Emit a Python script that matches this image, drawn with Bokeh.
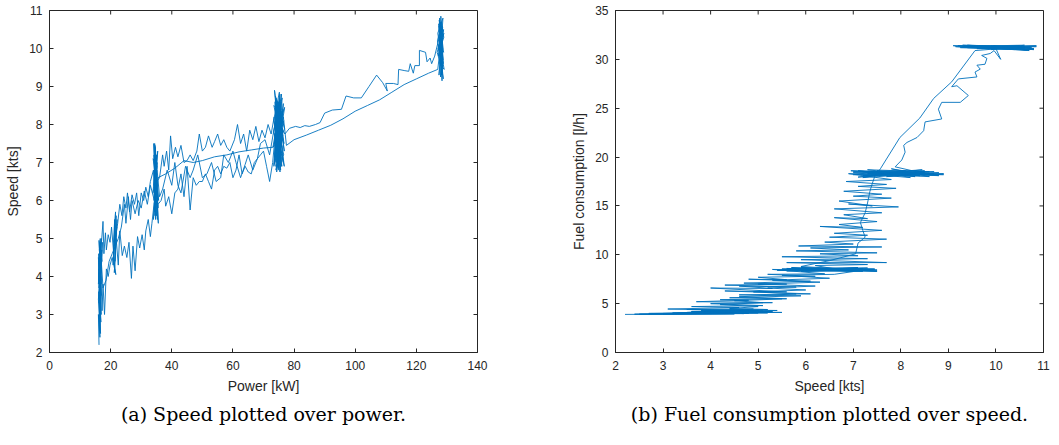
import math
from bokeh.plotting import figure
from bokeh.models import FixedTicker, Title, Range1d
from bokeh.layouts import row
from bokeh.embed import file_html
from bokeh.resources import INLINE

BLUE = "#0072BD"
AX = "#262626"

# ---------------- Chart (a): speed [kts] over power [kW] ----------------
a_cluster16 = [(16.2,2.2),(16.0,3.0),(16.5,2.4),(16.1,3.6),(16.8,2.8),(16.3,4.1),(16.6,3.2),(16.0,4.5),
               (16.9,3.5),(16.4,4.8),(16.2,3.7),(17.0,4.3),(16.5,4.9),(16.1,3.9),(16.7,4.6),(16.3,4.0),
               (17.1,4.7),(16.6,4.2),(16.2,4.95),(16.9,3.8),(16.4,4.5),(17.2,4.4),(16.5,4.8),(16.8,4.1),
               (16.3,4.7),(17.0,5.0),(16.6,4.3)]
a_cluster16_b = [(16.0,3.4),(16.7,2.5),(16.2,4.2),(16.9,3.0),(16.1,4.6),(16.5,3.5),(17.3,4.9),(16.3,2.9),
                 (16.8,4.5),(16.0,3.8),(16.6,5.0),(16.4,3.3),(17.0,4.6),(16.2,4.0)]
a_up_17_21 = [(17.5,5.45),(17.8,4.6),(18.3,5.15),(18.6,4.7),(19.2,5.1),(19.8,4.9),(20.3,5.3)]
a_cluster21 = [(21.0,4.6),(21.3,5.5),(20.8,4.3),(21.6,5.7),(21.1,4.9),(22.0,5.3),(21.4,4.4),(21.8,5.6),
               (21.2,4.8),(22.3,5.4)]
a_upper_22_33 = [(23.0,5.9),(23.7,5.6),(24.3,6.1),(25.0,5.8),(25.5,6.2),(26.2,5.7),(27.0,6.15),(27.8,5.9),
                 (28.5,6.2),(29.2,5.6),(30.0,6.2),(30.8,6.0),(31.5,6.35),(32.3,6.1),(33.0,6.5)]
a_cluster34 = [(34.0,6.8),(34.5,5.6),(34.2,7.2),(34.8,5.9),(34.1,7.5),(35.0,6.1),(34.4,6.9),(35.3,5.5),
               (34.6,7.4),(34.9,6.3),(34.3,7.0),(35.5,5.8),(34.7,7.3),(34.2,6.0),(35.1,6.6),(34.5,7.45),
               (35.6,5.4),(34.8,6.5)]
a_cluster34_c = [(33.8,6.2),(35.4,7.3),(34.0,5.5),(35.2,6.9),(33.9,7.1),(35.7,6.0),(34.4,7.5),(34.7,5.5),
                 (35.0,7.2),(34.1,6.4)]
a_upper_35_73 = [(36.0,6.6),(37.0,7.2),(37.5,6.9),(38.3,7.3),(39.0,6.8),(39.6,7.7),(40.3,7.1),(41.2,7.4),
                 (42.0,7.15),(43.0,7.45),(44.0,7.0),(45.0,7.05),(46.0,7.2),(47.0,7.05),(48.2,7.3),(49.0,7.75),
                 (50.0,7.3),(51.0,7.4),(52.0,7.7),(53.2,7.4),(54.0,7.55),(55.0,7.75),(56.0,7.45),(57.0,7.6),
                 (58.0,7.4),(59.0,7.3),(60.5,7.6),(61.5,8.0),(62.5,7.5),(63.5,7.75),(64.5,7.3),(65.5,7.85),
                 (66.5,7.6),(67.5,7.95),(68.5,7.55),(69.5,7.85),(70.5,7.65),(71.5,8.0),(72.5,7.75)]
a_cluster75 = [(73.5,8.2),(74.2,7.0),(73.8,8.6),(75.0,6.8),(74.0,8.3),(75.5,7.2),(73.6,8.9),(76.0,7.4),
               (74.5,8.5),(73.4,6.9),(75.2,8.7),(74.8,7.1),(76.4,8.4),(73.9,7.3),(75.8,8.6),(74.3,6.75),
               (76.6,8.1),(73.7,7.6),(75.4,8.8),(74.6,6.9),(76.2,7.9),(73.5,7.5),(75.0,8.5),(76.8,7.3),
               (74.1,8.7),(75.6,6.8),(74.9,8.2),(76.5,7.0),(73.8,8.0),(75.3,7.6),(76.9,8.45),(74.4,7.8),
               (75.7,7.05),(74.7,8.35),(76.3,7.7),(73.6,7.15),(75.1,8.55),(76.7,7.5),(74.2,8.1),(75.9,7.25)]
a_cluster75_d = [(73.2,7.8),(76.1,8.7),(74.8,6.85),(75.6,8.3),(73.4,8.5),(76.6,7.2),(74.0,6.9),(75.9,8.8),
                 (73.1,7.4),(76.3,8.0),(74.7,7.65),(75.4,6.75),(73.9,8.75),(76.9,7.9),(74.3,7.35),(75.7,8.1),
                 (73.5,6.95),(76.5,8.55),(74.9,7.0),(75.2,8.85),(73.3,8.1),(76.8,6.9),(74.4,8.45),(75.5,7.45),
                 (74.1,6.8),(76.0,8.35),(73.6,7.7),(75.3,8.0)]
a_upper_77_127 = [(77.0,7.75),(78.5,7.9),(80.5,7.95),(82.0,7.92),(83.5,7.97),(85.0,7.95),(87.0,8.0),(88.5,8.05),
                  (90.0,8.3),(92.5,8.38),(95.5,8.4),(97.0,8.75),(99.5,8.7),(102.0,8.7),(104.5,9.0),(107.0,9.3),
                  (109.0,9.1),(110.5,8.88),(110.0,9.08),(112.5,9.08),(114.0,9.05),(114.2,9.45),(116.0,9.42),
                  (117.5,9.4),(118.0,9.6),(119.0,9.35),(119.5,9.55),(121.0,9.55),(121.0,9.95),(123.0,9.9),
                  (123.5,9.65),(124.5,9.75),(125.0,9.6),(126.0,9.8)]
a_cluster128 = [(127.5,10.3),(128.2,9.3),(127.8,10.7),(128.6,9.5),(127.3,10.1),(128.9,9.9),(127.6,10.8),
                (128.4,9.15),(127.9,10.5),(128.7,9.7),(127.4,10.6),(128.3,9.4),(128.0,10.85),(128.8,9.6),
                (127.7,10.2),(129.0,10.4),(127.2,9.8),(128.5,10.6),(127.9,9.25),(128.6,10.0),(127.5,10.75),
                (128.1,9.55)]
a_cluster128_b = [(126.8,9.9),(128.9,10.5),(127.4,9.3),(128.7,10.8),(127.0,10.4),(129.1,9.45),(127.6,9.6),
                  (128.3,10.7),(126.9,10.2),(128.8,9.2),(127.8,10.0),(129.0,10.3),(127.3,10.65),(128.5,9.35),
                  (127.9,10.4),(128.2,9.8),(127.1,10.0),(128.6,10.55)]
a_lower_127_77 = [(127.0,9.45),(124.0,9.35),(120.0,9.2),(116.0,9.05),(112.0,8.85),(108.0,8.65),(104.0,8.5),
                  (100.0,8.35),(96.0,8.15),(92.0,7.98),(88.0,7.85),(84.0,7.72),(80.0,7.6),(77.5,7.45)]
a_cluster75_b = [(76.5,8.2),(74.0,7.2),(75.5,8.4),(73.8,7.9),(76.0,6.9),(74.6,8.6),(75.2,7.35),(73.9,8.4),
                 (76.4,7.6),(74.5,7.5)]
a_smooth_73_35 = [(73.0,7.4),(70.0,7.38),(66.0,7.33),(62.0,7.28),(58.0,7.2),(54.0,7.15),(50.0,7.05),
                  (47.0,7.0),(44.0,7.05),(41.0,6.85),(38.0,6.7),(35.5,6.6)]
a_cluster34_b = [(34.5,5.7),(34.9,7.2),(34.3,5.9),(35.2,7.0),(34.6,6.2)]
a_lower_34_22 = [(33.5,5.4),(33.0,5.05),(32.3,5.5),(31.5,5.2),(31.0,4.7),(30.3,5.1),(29.5,4.75),(28.8,5.05),
                 (28.0,4.15),(27.3,4.8),(26.8,3.95),(26.0,4.9),(25.3,4.5),(24.5,4.8),(23.8,4.55),(23.0,5.2),
                 (22.5,4.3)]
a_cluster21_b = [(21.8,5.0),(21.2,4.1),(22.1,5.5),(21.0,4.5),(21.7,4.05)]
a_lower_21_16 = [(20.5,4.5),(19.8,4.3),(19.2,4.0),(18.6,4.2),(18.0,3.0),(17.5,3.8),(17.2,3.1),(16.8,4.0),
                 (16.4,2.6),(16.9,4.4),(16.2,3.3),(16.7,4.7)]
a_mid_17_34 = [(17.5,3.7),(18.5,3.9),(19.5,4.4),(20.5,4.6),(22.5,5.0),(23.5,5.3),(24.5,5.9),(25.0,5.4),
               (25.8,6.1),(26.5,5.5),(27.0,6.0),(28.0,5.65),(29.0,6.0),(30.0,5.8),(31.0,6.25),(32.0,5.9),
               (33.0,6.4),(34.3,6.0),(34.8,7.1),(35.0,5.6)]
a_lower_35_73 = [(35.5,5.9),(36.5,6.0),(37.5,6.3),(38.0,5.85),(39.0,6.1),(40.0,5.65),(41.0,6.2),(42.0,6.3),
                 (43.0,6.7),(44.0,6.1),(45.0,6.9),(46.0,5.75),(47.0,6.6),(48.0,6.4),(49.0,6.5),(50.0,6.5),
                 (51.0,6.7),(52.0,6.5),(53.0,6.3),(54.0,6.8),(55.0,6.9),(56.0,6.7),(57.0,6.9),(58.0,6.85),
                 (59.0,7.0),(60.0,6.6),(61.0,6.8),(62.0,7.2),(63.0,6.7),(64.0,6.9),(65.0,6.75),(66.0,6.7),
                 (67.0,7.0),(68.0,7.1),(69.0,7.2),(70.0,7.3),(71.0,6.9),(72.0,6.5),(73.0,7.0)]
a_cluster75_c = [(74.5,8.3),(75.8,6.9),(74.0,8.0),(76.2,7.8),(73.7,7.0),(75.0,8.6)]
a_mid_72_36 = [(72.0,7.2),(70.5,7.6),(69.0,7.5),(68.0,7.1),(66.5,6.8),(65.0,7.2),(64.0,6.95),(62.5,6.6),
               (61.0,7.0),(60.0,7.3),(58.5,7.0),(57.0,7.2),(56.0,6.6),(54.5,6.5),(53.0,7.0),(51.5,6.7),
               (50.0,6.6),(48.5,7.2),(47.0,6.8),(46.0,6.6),(44.5,6.9),(43.0,6.2),(42.0,6.4),(41.0,7.0),
               (40.0,6.4),(38.5,6.8),(37.0,6.3),(36.0,6.1),(35.2,6.8)]

a_segments = [a_cluster16, a_cluster16_b, a_up_17_21, a_cluster21, a_upper_22_33, a_cluster34, a_cluster34_c,
              a_upper_35_73, a_cluster75, a_cluster75_d, a_upper_77_127, a_cluster128, a_cluster128_b,
              a_lower_127_77, a_cluster75_b, a_smooth_73_35, a_cluster34_b, a_lower_34_22, a_cluster21_b,
              a_lower_21_16, a_mid_17_34, a_lower_35_73, a_cluster75_c, a_mid_72_36]

# ---------------- Chart (b): fuel consumption [l/h] over speed [kts] ----------------
b_cluster4 = [(2.2,3.9),(4.5,3.95),(2.5,3.92),(4.8,4.0),(3.0,3.95),(5.0,4.05),(2.7,4.0),(4.6,4.1),
              (3.4,4.0),(5.2,4.05),(3.8,4.1),(4.9,4.15),(3.2,4.05),(5.5,4.1),(4.0,4.2),(5.1,4.15),
              (3.6,4.2),(4.7,4.25),(4.2,4.1),(5.3,4.2),(3.9,4.3),(4.8,4.25),(4.4,4.35),(5.0,4.3),
              (4.1,4.2),(5.4,4.3),(3.5,4.4),(4.9,4.45)]
b_cluster4_c = [(3.5,4.1),(5.0,4.2),(3.8,4.0),(4.9,4.1),(2.4,3.92),(4.7,3.98),(3.6,4.2),(5.3,4.15),
                (3.9,4.05),(4.8,4.3),(3.3,4.0),(5.1,4.25),(4.0,4.15),(4.6,4.3)]
b_band_4_8 = [(3.1,4.45),(4.6,4.6),(3.6,4.7),(5.1,4.8),(4.0,5.0),(5.3,5.1),(3.7,5.2),(4.8,5.35),
              (4.2,5.4),(5.5,5.5),(4.4,5.6),(5.9,5.8),(4.6,5.9),(6.1,6.0),(4.3,6.3),(5.6,6.2),
              (4.0,6.6),(5.3,6.55),(4.6,6.8),(5.8,6.7),(4.3,6.9),(5.6,7.0),(4.7,7.1),(6.1,7.3),
              (4.8,7.5),(5.6,7.45),(5.0,7.7),(6.2,7.8),(5.2,8.0),(6.4,8.05)]
b_cluster8 = [(5.3,8.5),(7.0,8.4),(5.6,8.6),(7.4,8.5),(5.9,8.3),(7.2,8.6),(5.5,8.45),(7.5,8.3),
              (6.2,8.6),(7.3,8.4),(5.8,8.5),(7.1,8.7),(6.0,8.35),(7.45,8.5),(6.4,8.55),(7.0,8.3),
              (5.7,8.7),(6.9,8.45)]
b_cluster8_c = [(5.4,8.4),(7.45,8.55),(5.9,8.7),(7.2,8.3),(5.6,8.35),(7.5,8.45),(6.1,8.5),(7.3,8.65),
                (5.5,8.55),(6.8,8.4)]
b_band_9_17 = [(6.2,8.9),(7.3,9.0),(5.6,9.2),(7.7,9.2),(5.9,9.5),(7.3,9.6),(5.5,9.8),(7.1,9.9),
               (6.3,10.1),(7.5,10.2),(5.8,10.4),(6.9,10.5),(6.1,10.7),(7.6,10.8),(5.85,10.9),(7.0,11.1),
               (6.4,11.3),(7.7,11.6),(6.5,11.8),(7.3,12.0),(6.6,12.2),(7.6,12.5),(6.3,12.9),(7.2,12.8),
               (6.7,13.1),(7.5,13.4),(6.6,13.8),(7.3,13.7),(6.8,14.1),(7.6,14.3),(6.6,14.7),(7.95,14.9),
               (6.9,15.2),(7.4,15.0),(6.7,15.5),(7.8,15.8),(7.0,16.0),(7.6,16.2),(6.8,16.5),(7.9,16.8),
               (7.1,17.0),(7.7,17.2),(6.85,17.5),(7.8,17.7)]
b_cluster18 = [(6.9,18.3),(8.2,18.2),(7.0,18.5),(8.5,18.4),(7.2,18.1),(8.7,18.3),(7.1,18.6),(8.3,18.0),
               (7.4,18.4),(8.9,18.2),(7.0,18.2),(8.6,18.5),(7.3,18.7),(8.4,18.1),(7.6,18.3),(8.8,18.4),
               (7.2,17.9),(8.1,18.6),(7.5,18.2),(8.6,18.0),(7.8,18.8),(8.3,18.4)]
b_cluster18_b = [(6.95,18.6),(8.8,18.1),(7.3,18.3),(8.45,18.7),(7.1,17.95),(8.7,18.5),(7.5,18.6),(8.2,17.9),
                 (7.0,18.4),(8.9,18.3),(7.7,18.0),(8.5,18.6),(7.2,18.5),(8.6,18.2)]
b_rise_19_31 = [(7.88,19.0),(8.02,19.7),(8.09,20.5),(8.06,21.2),(8.13,21.5),(8.34,22.0),(8.48,22.7),
                (8.51,23.6),(8.86,23.9),(8.79,24.9),(8.86,25.6),(9.25,25.6),(9.42,26.3),(9.18,27.3),
                (9.07,27.2),(9.21,28.0),(9.60,28.2),(9.56,28.7),(9.67,29.0),(9.60,29.4),(9.77,29.5),
                (9.81,30.1),(9.70,30.4),(9.88,30.6),(9.96,30.9),(10.1,30.0),(10.0,31.1)]
b_cluster31 = [(9.1,31.4),(10.5,31.2),(9.3,31.3),(10.85,31.4),(9.6,31.1),(10.7,31.0),(9.4,31.45),
               (10.3,31.3),(9.8,31.2),(10.8,31.1),(9.5,31.35),(10.6,31.45),(9.9,31.0),(10.4,31.3),
               (9.2,31.4),(10.75,31.2),(9.7,31.3),(10.2,31.1),(9.95,31.4),(10.65,30.95)]
b_cluster31_b = [(9.15,31.3),(10.8,31.0),(9.4,31.2),(10.6,31.1),(9.3,31.45),(10.85,31.3),(9.7,31.1),
                 (10.5,31.4),(9.5,31.25),(10.7,30.9),(9.9,31.35),(10.4,31.0),(9.25,31.2),(10.6,31.3)]
b_descent_31_9 = [(9.56,30.9),(9.07,27.7),(8.69,26.0),(8.4,24.0),(7.98,22.0),(7.57,18.8),(7.45,18.0),
                  (7.4,17.3),(7.35,16.5),(7.3,15.3),(7.25,14.3),(7.15,13.3),(7.2,12.5),(7.25,11.8),
                  (7.1,11.2),(7.05,10.1),(6.5,9.4),(5.9,8.8)]
b_cluster8_b = [(7.5,8.35),(6.0,8.6),(7.3,8.5)]
b_band_8_4 = [(6.6,8.0),(5.5,7.9),(6.5,7.6),(5.3,7.4),(6.3,7.2),(5.0,7.0),(6.2,6.8),(5.2,6.6),
              (6.0,6.4),(4.9,6.2),(5.8,6.0),(4.6,5.7),(5.6,5.5),(4.5,5.3),(5.1,5.1),(4.2,4.9),
              (5.0,4.7),(4.4,4.5),(5.2,4.4),(3.8,4.3)]
b_cluster4_b = [(5.0,4.2),(4.4,4.0),(4.9,4.25),(3.0,4.0)]

b_segments = [b_cluster4, b_cluster4_c, b_band_4_8, b_cluster8, b_cluster8_c, b_band_9_17, b_cluster18,
              b_cluster18_b, b_rise_19_31, b_cluster31, b_cluster31_b, b_descent_31_9, b_cluster8_b,
              b_band_8_4, b_cluster4_b]

a_ticks_x = [0, 20, 40, 60, 80, 100, 120, 140]
a_ticks_y = [2, 3, 4, 5, 6, 7, 8, 9, 10, 11]
b_ticks_x = [2, 3, 4, 5, 6, 7, 8, 9, 10, 11]
b_ticks_y = [0, 5, 10, 15, 20, 25, 30, 35]


def unzip(segments):
    xs, ys = [], []
    for seg in segments:
        for x, y in seg:
            xs.append(x)
            ys.append(y)
    return xs, ys


def make(width, left, right, xr, yr, xt, yt, xlabel, ylabel, caption, segments):
    p = figure(width=width, height=445, x_range=Range1d(*xr), y_range=Range1d(*yr),
               output_backend="svg", toolbar_location=None,
               min_border_left=left, min_border_right=right, min_border_top=10, min_border_bottom=93)
    p.outline_line_color = AX
    p.outline_line_width = 1
    p.background_fill_color = "white"
    p.border_fill_color = "white"
    p.xgrid.visible = False
    p.ygrid.visible = False
    for ax, ticks, lab in ((p.xaxis[0], xt, xlabel), (p.yaxis[0], yt, ylabel)):
        ax.ticker = FixedTicker(ticks=ticks)
        ax.axis_label = lab
        ax.axis_label_text_font = "Liberation Sans"
        ax.axis_label_text_font_size = "14px"
        ax.axis_label_text_font_style = "normal"
        ax.axis_label_text_color = AX
        ax.axis_label_standoff = 5
        ax.major_label_text_font = "Liberation Sans"
        ax.major_label_text_font_size = "12px"
        ax.major_label_text_color = AX
        ax.major_label_standoff = 7
        ax.major_tick_in = 4
        ax.major_tick_out = 0
        ax.major_tick_line_color = AX
        ax.minor_tick_line_color = None
        ax.axis_line_color = AX
    p.xaxis[0].major_label_standoff = 8
    # inward ticks on the top and right edges of the box (MATLAB style)
    p.ray(x=xt, y=[yr[1]] * len(xt), length=4, length_units="screen", angle=-math.pi / 2,
          line_color=AX, line_width=1)
    p.ray(x=[xr[1]] * len(yt), y=yt, length=4, length_units="screen", angle=math.pi,
          line_color=AX, line_width=1)
    xs, ys = unzip(segments)
    p.line(xs, ys, line_color=BLUE, line_width=0.9)
    cap = Title(text=caption, align="center", text_font="DejaVu Serif", text_font_size="19px",
                text_font_style="normal", text_color="black", standoff=9)
    p.add_layout(cap, "below")
    return p


p1 = make(530, 49, 53, (0, 140), (2, 11), a_ticks_x, a_ticks_y, "Power [kW]", "Speed [kts]",
          "(a) Speed plotted over power.", a_segments)
p2 = make(529, 85, 16, (2, 11), (0, 35), b_ticks_x, b_ticks_y, "Speed [kts]", "Fuel consumption [l/h]",
          "(b) Fuel consumption plotted over speed.", b_segments)

layout = row(p1, p2)
open("out.html", "w").write(file_html(layout, INLINE))
